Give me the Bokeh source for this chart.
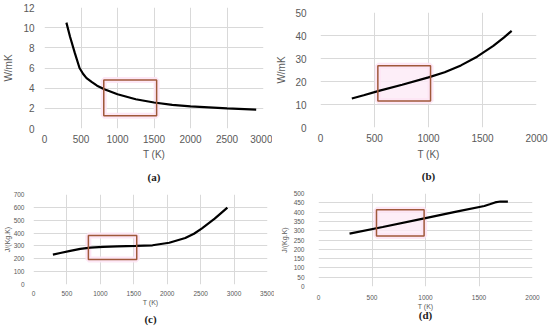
from bokeh.plotting import figure
from bokeh.layouts import column, row
from bokeh.models import Title, FixedTicker
from bokeh.embed import file_html
from bokeh.resources import INLINE

# (a) thermal conductivity, W/mK vs T (K)
Ta = [300, 350, 415, 480, 530, 576, 650, 720, 820, 1000, 1250, 1500, 1750,
      2000, 2500, 2900]
ka = [10.5, 9.1, 7.5, 6.0, 5.4, 5.0, 4.6, 4.25, 3.9, 3.4, 2.9, 2.58, 2.35,
      2.2, 2.0, 1.87]
box_a = [812, 1536, 1.27, 4.82]

# (b) thermal conductivity, W/mK vs T (K)
Tb = [290, 400, 540, 756, 1000, 1150, 1300, 1450, 1600, 1700, 1770]
kb = [12.6, 14.0, 15.9, 18.6, 21.8, 24.0, 27.0, 30.8, 35.5, 39.2, 42.0]
box_b = [531, 1019, 11.5, 26.9]

# (c) specific heat, J/(Kg.K) vs T (K)
Tc = [290, 400, 550, 700, 850, 1040, 1250, 1530, 1780, 2030, 2270, 2400,
      2520, 2710, 2900]
cc = [232, 245, 262, 277, 287, 293, 296, 300, 305, 325, 362, 395, 437, 512,
      598]
box_c = [821, 1544, 195, 382]

# (d) specific heat, J/(Kg.K) vs T (K)
Td = [290, 600, 1000, 1300, 1550, 1600, 1650, 1700, 1770]
cd = [284, 320, 368, 404, 433, 442, 452, 457, 456]
box_d = [542, 987, 272, 412]

GRID = "#d9d9d9"
TXT = "#595959"
FONT = "Liberation Sans"


def panel(T, y, box, xmax, xstep, ymax, ystep, ylabel, caption, w, h,
          bl, br, bt, tick_fs, lab_fs, xs1, xs2, ys1, ys2, cap_standoff,
          pinkfill=False, bb=0, cap_valign="bottom"):
    p = figure(width=w, height=h, x_range=(0, xmax), y_range=(0, ymax),
               output_backend="svg", toolbar_location=None,
               min_border_left=bl, min_border_right=br,
               min_border_top=bt, min_border_bottom=bb, frame_align=False)
    p.outline_line_color = None
    p.xaxis.ticker = FixedTicker(ticks=list(range(0, xmax + 1, xstep)))
    yt = [i * ystep for i in range(int(round(ymax / ystep)) + 1)]
    p.yaxis.ticker = FixedTicker(ticks=yt)
    for ax in (p.xaxis[0], p.yaxis[0]):
        ax.axis_line_color = None
        ax.major_tick_line_color = None
        ax.minor_tick_line_color = None
        ax.major_label_text_color = TXT
        ax.major_label_text_font = FONT
        ax.major_label_text_font_size = f"{tick_fs}px"
        ax.axis_label_text_color = TXT
        ax.axis_label_text_font = FONT
        ax.axis_label_text_font_size = f"{lab_fs}px"
        ax.axis_label_text_font_style = "normal"
    p.xaxis.major_label_standoff = xs1
    p.xaxis.axis_label_standoff = xs2
    p.yaxis.major_label_standoff = ys1
    p.yaxis.axis_label_standoff = ys2
    p.xaxis.axis_label = "T (K)"
    p.yaxis.axis_label = ylabel
    p.xgrid.grid_line_color = GRID
    p.ygrid.grid_line_color = GRID
    p.xgrid.ticker = p.xaxis.ticker
    p.ygrid.ticker = p.yaxis.ticker
    x0, x1, y0, y1 = box
    # faint pink highlight around the box
    p.quad(left=[x0], right=[x1], bottom=[y0], top=[y1],
           fill_color="#fdeaf6" if pinkfill else None, fill_alpha=0.8,
           line_color="#fde4f4", line_width=6, line_alpha=0.9)
    p.line(T, y, line_color="black", line_width=2.2)
    p.quad(left=[x0], right=[x1], bottom=[y0], top=[y1], fill_color=None,
           line_color="#a0583a", line_width=1.5)
    t = Title(text=caption, align="center", text_font="Liberation Serif",
              text_font_size="11px", text_font_style="bold",
              text_color="#222222", standoff=cap_standoff,
              vertical_align=cap_valign)
    p.add_layout(t, "below")
    return p


pa = panel(Ta, ka, box_a, 3000, 500, 12, 2, "W/mK", "(a)", 272, 189,
           39, 9, 7, 10, 10, 0, 3, 4, 6, 13)
pb = panel(Tb, kb, box_b, 2000, 500, 50, 10, "W/mK", "(b)", 277, 186,
           48, 13, 12, 10, 10, 0, 4, 8, 5, 10, pinkfill=True)
pc = panel(Tc, cc, box_c, 3500, 500, 700, 100, "J/(Kg.K)", "(c)", 274, 138,
           29, 7, 5, 6.5, 7, 0, 0, 3, 0, 5)
pd = panel(Td, cd, box_d, 2000, 500, 500, 50, "J/(Kg.K)", "(d)", 275, 132,
           44, 17, 4, 6.5, 7, 2, 0, 8, 3, -8, pinkfill=True, bb=35,
           cap_valign="top")

layout = column(row(pa, pb), row(pc, pd))
open("out.html", "w").write(file_html(layout, INLINE))
